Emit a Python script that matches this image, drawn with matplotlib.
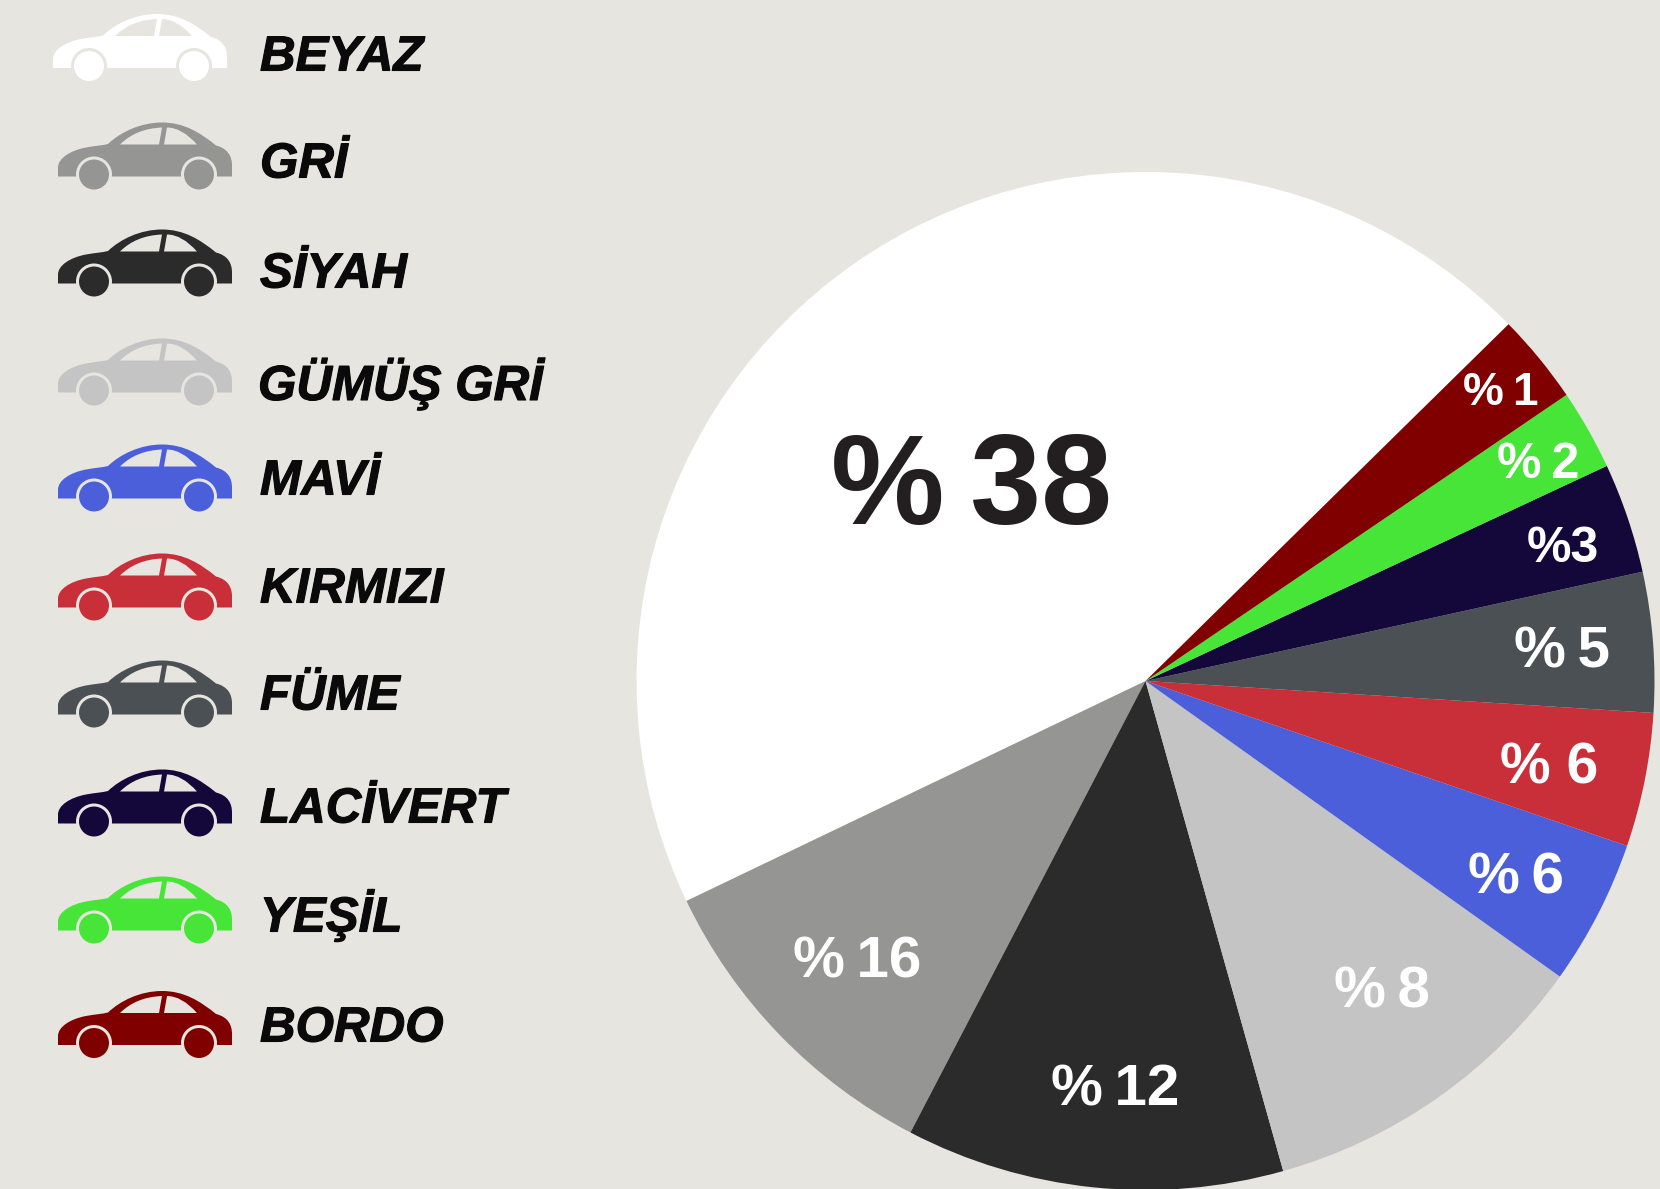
# coding:utf-8

import matplotlib as mpl
from matplotlib import pyplot as plt
from matplotlib import patheffects as pe
from matplotlib.patches import Circle, PathPatch
from matplotlib.path import Path

colour_names = ['BEYAZ', 'GRİ', 'SİYAH', 'GÜMÜŞ GRİ', 'MAVİ', 'KIRMIZI', 'FÜME', 'LACİVERT', 'YEŞİL', 'BORDO']
colours = ['#ffffff', '#959593', '#2b2b2b', '#c4c4c4', '#4b5fdb', '#c92f38', '#4b5055', '#14073a', '#47e538', '#800000']
pie_labels = ['%\u200938', '%\u200916', '%\u200912', '%\u20098', '%\u20096', '% 6', '%\u20095', '%3', '%\u20092', '%\u20091']
# the wedges as drawn do not follow the printed percentages, so they are read as degrees
wedge_degrees = [161.1, 36.9, 43.2, 38.8, 16.6, 15.3, 16.0, 12.6, 9.2, 10.3]

BG = '#e6e5e0'
W, H = 1660, 1189

mpl.rcParams['font.family'] = ['Liberation Sans', 'DejaVu Sans']


def car_path(x, y):
    # x is the left edge, y the wheel centre line, heights measured upwards
    pts = [(0, -2), (0, 7),
           (0, 16), (12, 24), (28, 27),
           (36, 28.5), (44, 29), (50, 30.5),
           (62, 42), (82, 52), (104, 52),
           (126, 52), (142, 42), (158, 29),
           (170, 26), (174, 18), (174, 9),
           (174, -2), (0, -2)]
    codes = [Path.MOVETO, Path.LINETO] + [Path.CURVE4] * 15 + [Path.LINETO, Path.CLOSEPOLY]
    return Path([(x + a, y + b) for a, b in pts], codes)


def window_path(x, y, pts):
    codes = [Path.MOVETO, Path.CURVE3, Path.CURVE3, Path.LINETO, Path.CLOSEPOLY]
    return Path([(x + a, y + b) for a, b in pts], codes)


def draw_car(ax, x, y, colour):
    ax.add_patch(PathPatch(car_path(x, y), fc=colour, ec='none'))
    ax.add_patch(PathPatch(window_path(x, y, [(62, 30), (78, 46), (104, 47), (101, 30), (62, 30)]), fc=BG, ec='none'))
    ax.add_patch(PathPatch(window_path(x, y, [(139, 30), (124, 47), (109, 47), (106, 30), (139, 30)]), fc=BG, ec='none'))
    for cx in (36, 141):
        ax.add_patch(Circle((x + cx, y), 18, fc=BG, ec='none'))
        ax.add_patch(Circle((x + cx, y), 15, fc=colour, ec='none'))


fig = plt.figure(figsize=(W / 100, H / 100), dpi=100, facecolor=BG)
ax = fig.add_axes([0, 0, 1, 1])
wedges, _ = ax.pie(wedge_degrees, colors=colours, startangle=44.5, counterclock=True,
                   center=(1145.5, 508), radius=509, normalize=True)
ax.set_xlim(0, W)
ax.set_ylim(0, H)
ax.set_aspect('equal')
ax.axis('off')

car_y = [66, 174.5, 281.5, 390.5, 496.5, 605.5, 712.5, 821.5, 928.5, 1043]
car_x = [53, 58, 58, 58, 58, 58, 58, 58, 58, 58]
label_y = [58, 165, 275, 384, 482, 590, 697, 810, 916, 1029]
bold_edge = [pe.withStroke(linewidth=0.8, foreground='#0a0a0a')]
for i, name in enumerate(colour_names):
    draw_car(ax, car_x[i], H - car_y[i], colours[i])
    ax.text(260 if i != 3 else 258, H - label_y[i], name, fontsize=35.5, fontweight='bold', fontstyle='italic',
            color='#0a0a0a', ha='left', va='center', path_effects=bold_edge)

label_xy = [(971, 491), (857, 963), (1115, 1091), (1382, 993), (1516, 879),
            (1549, 768), (1562, 653), (1563, 549), (1538, 465), (1501, 393)]
label_size = [92, 42, 42, 42, 42, 41, 42, 36, 36, 33]
label_colour = ['#231f20'] + ['#ffffff'] * 9
for i, lab in enumerate(pie_labels):
    ax.text(label_xy[i][0], H - label_xy[i][1], lab, fontsize=label_size[i], fontweight='bold',
            color=label_colour[i], ha='center', va='center')

fig.savefig('out.png', dpi=100, facecolor=BG)
